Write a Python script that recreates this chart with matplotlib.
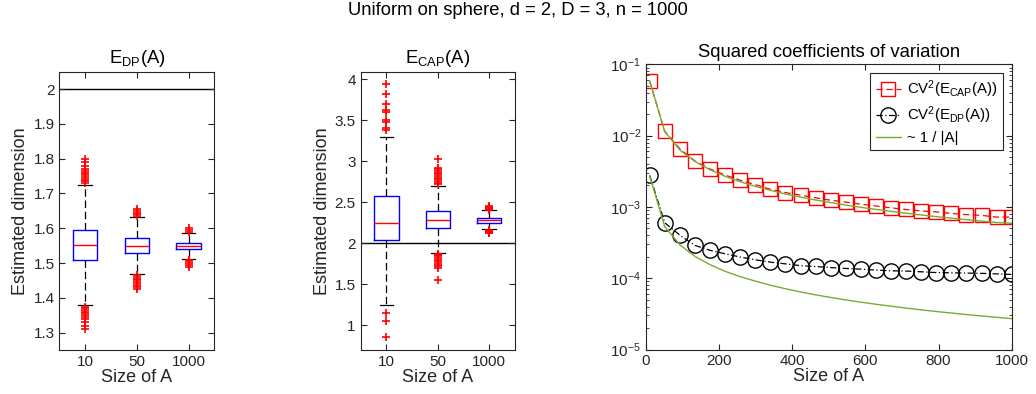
import numpy as np
import matplotlib
matplotlib.use("Agg")
import matplotlib.pyplot as plt

plt.rcParams['font.family'] = ['Liberation Sans', 'DejaVu Sans']
plt.rcParams['mathtext.default'] = 'regular'

# ================== DATA ==================
GROUPS = ["10", "50", "1000"]

# E_DP(A) box stats: (whislo, q1, med, q3, whishi)
DP_STATS = [
    (1.378, 1.508, 1.552, 1.595, 1.725),
    (1.468, 1.529, 1.550, 1.571, 1.632),
    (1.513, 1.540, 1.549, 1.559, 1.586),
]
DP_FLIERS = [
    [1.73, 1.735, 1.74, 1.745, 1.75, 1.755, 1.76, 1.765, 1.77, 1.78, 1.79, 1.80,
     1.31, 1.32, 1.33, 1.34, 1.345, 1.35, 1.355, 1.36, 1.365, 1.37, 1.375],
    [1.635, 1.64, 1.645, 1.65, 1.655,
     1.425, 1.43, 1.435, 1.44, 1.445, 1.45, 1.455, 1.46, 1.465],
    [1.59, 1.595, 1.60, 1.49, 1.495, 1.50, 1.505, 1.51],
]

# E_CAP(A) box stats
CAP_STATS = [
    (1.25, 2.04, 2.25, 2.57, 3.29),
    (1.88, 2.18, 2.28, 2.39, 2.70),
    (2.17, 2.25, 2.28, 2.31, 2.40),
]
CAP_FLIERS = [
    [3.38, 3.40, 3.48, 3.50, 3.60, 3.62, 3.70, 3.82, 3.94, 1.15, 1.05, 0.86],
    [2.72, 2.74, 2.76, 2.78, 2.80, 2.82, 2.84, 2.86, 2.88, 2.90, 2.92, 3.03,
     1.55, 1.70, 1.72, 1.74, 1.76, 1.78, 1.80, 1.82, 1.84, 1.86, 1.87],
    [2.41, 2.42, 2.43, 2.44, 2.45, 2.12, 2.13, 2.14, 2.15, 2.16],
]
TRUE_DIM = 2

# squared coefficients of variation
SIZES = [10, 51, 93, 134, 175, 216, 258, 299, 340, 381, 423, 464, 505,
         546, 588, 629, 670, 711, 753, 794, 835, 876, 918, 959, 1000]
CV2_CAP = [0.058, 0.0115, 0.0065, 0.0044, 0.0034, 0.0028, 0.00236, 0.00205,
           0.00177, 0.00159, 0.00146, 0.00134, 0.00124, 0.00117, 0.00109,
           0.00103, 0.00097, 0.00092, 0.00088, 0.00085, 0.00081, 0.00078,
           0.00076, 0.00072, 0.00072]
CV2_DP = [0.00277, 6.0e-4, 4.0e-4, 2.88e-4, 2.46e-4, 2.2e-4, 1.98e-4, 1.81e-4,
          1.68e-4, 1.59e-4, 1.5e-4, 1.46e-4, 1.41e-4, 1.37e-4, 1.34e-4,
          1.3e-4, 1.27e-4, 1.26e-4, 1.23e-4, 1.2e-4, 1.19e-4, 1.18e-4,
          1.17e-4, 1.15e-4, 1.13e-4]
REF_CAP = [0.058, 0.01137, 0.00624, 0.00433, 0.00331, 0.00269, 0.00225,
           0.00194, 0.00171, 0.00152, 0.00137, 0.00125, 0.00115, 0.00106,
           0.000986, 0.000922, 0.000866, 0.000816, 0.00077, 0.00073,
           0.000695, 0.000662, 0.000632, 0.000605, 0.00059]
REF_DP = [0.00272, 5.3e-4, 2.92e-4, 2.02e-4, 1.55e-4, 1.25e-4, 1.05e-4,
          9.1e-5, 7.98e-5, 7.12e-5, 6.41e-5, 5.84e-5, 5.37e-5, 4.96e-5,
          4.61e-5, 4.31e-5, 4.05e-5, 3.81e-5, 3.6e-5, 3.41e-5, 3.25e-5,
          3.09e-5, 2.95e-5, 2.83e-5, 2.71e-5]
# ==========================================

DARK = (0.15, 0.15, 0.15)
GREEN = (0.466, 0.674, 0.188)
LABEL_FS = 13
TITLE_FS = 13.3


def style_axes(ax):
    for s in ax.spines.values():
        s.set_color(DARK)
        s.set_linewidth(0.8)
    ax.tick_params(direction='in', top=True, right=True, colors=DARK,
                   labelsize=11, length=4, width=0.8)
    ax.tick_params(which='minor', direction='in', top=False, right=True,
                   colors=DARK, length=2, width=0.6)


def draw_boxes(ax, stats, fliers):
    bxp_stats = []
    for (lo, q1, med, q3, hi), fl, lab in zip(stats, fliers, GROUPS):
        bxp_stats.append(dict(whislo=lo, q1=q1, med=med, q3=q3, whishi=hi,
                              fliers=fl, label=lab))
    ax.bxp(bxp_stats, positions=[1, 2, 3], widths=0.47, capwidths=0.27,
           boxprops=dict(color='blue', linewidth=1.0),
           medianprops=dict(color='red', linewidth=1.0),
           whiskerprops=dict(color='black', linewidth=0.9, linestyle=(0, (6, 3))),
           capprops=dict(color='black', linewidth=0.9),
           flierprops=dict(marker='+', markeredgecolor='red', markersize=6,
                           markeredgewidth=1.2, linestyle='none'))
    ax.axhline(TRUE_DIM, color='black', linewidth=1.0, zorder=0)
    ax.set_xlim(0.5, 3.5)
    ax.set_xlabel("Size of A", fontsize=LABEL_FS, color=DARK, labelpad=0)
    ax.set_ylabel("Estimated dimension", fontsize=LABEL_FS, color=DARK,
                  labelpad=3)
    style_axes(ax)


fig = plt.figure(figsize=(10.36, 3.94), dpi=100)

ax1 = fig.add_axes([0.0573, 0.1117, 0.1496, 0.7063])
draw_boxes(ax1, DP_STATS, DP_FLIERS)
ax1.set_ylim(1.25, 2.05)
ax1.set_yticks([1.3, 1.4, 1.5, 1.6, 1.7, 1.8, 1.9, 2])
ax1.set_yticklabels(["1.3", "1.4", "1.5", "1.6", "1.7", "1.8", "1.9", "2"])
ax1.set_title("$E_{DP}$(A)", fontsize=TITLE_FS, color='black', pad=6)

ax2 = fig.add_axes([0.3482, 0.1117, 0.149, 0.7063])
draw_boxes(ax2, CAP_STATS, CAP_FLIERS)
ax2.set_ylim(0.7, 4.09)
ax2.set_yticks([1, 1.5, 2, 2.5, 3, 3.5, 4])
ax2.set_yticklabels(["1", "1.5", "2", "2.5", "3", "3.5", "4"])
ax2.set_title("$E_{CAP}$(A)", fontsize=TITLE_FS, color='black', pad=6)

ax3 = fig.add_axes([0.6236, 0.1129, 0.353, 0.7239])
ax3.plot(SIZES, CV2_CAP, color='red', linestyle=(0, (5, 3)), linewidth=0.9,
         marker='s', markersize=10, markerfacecolor='none',
         markeredgewidth=1.0, label="$CV^2(E_{CAP}$(A))")
ax3.plot(SIZES, CV2_DP, color='black', linestyle=(0, (5, 2, 1, 2)),
         linewidth=0.9, marker='o', markersize=11, markerfacecolor='none',
         markeredgewidth=1.0, label="$CV^2(E_{DP}$(A))")
ax3.plot(SIZES, REF_CAP, color=GREEN, linewidth=1.0, label="~ 1 / |A|")
ax3.plot(SIZES, REF_DP, color=GREEN, linewidth=1.0)
ax3.set_yscale('log')
ax3.set_ylim(1e-5, 1e-1)
ax3.set_xlim(0, 1000)
ax3.set_xticks([0, 200, 400, 600, 800, 1000])
ax3.set_xlabel("Size of A", fontsize=LABEL_FS, color=DARK, labelpad=0)
ax3.set_title("Squared coefficients of variation", fontsize=TITLE_FS,
              color='black', pad=5)
style_axes(ax3)
leg = ax3.legend(loc='upper right', fontsize=10.8, fancybox=False,
                 framealpha=1, edgecolor=DARK, handlelength=1.7,
                 handletextpad=0.4, borderaxespad=0.6, labelspacing=0.3,
                 borderpad=0.35)
leg.get_frame().set_linewidth(0.8)

fig.suptitle("Uniform on sphere, d = 2, D = 3, n = 1000", fontsize=13.2,
             y=0.995, va='top')

fig.savefig("out.png", dpi=100)
